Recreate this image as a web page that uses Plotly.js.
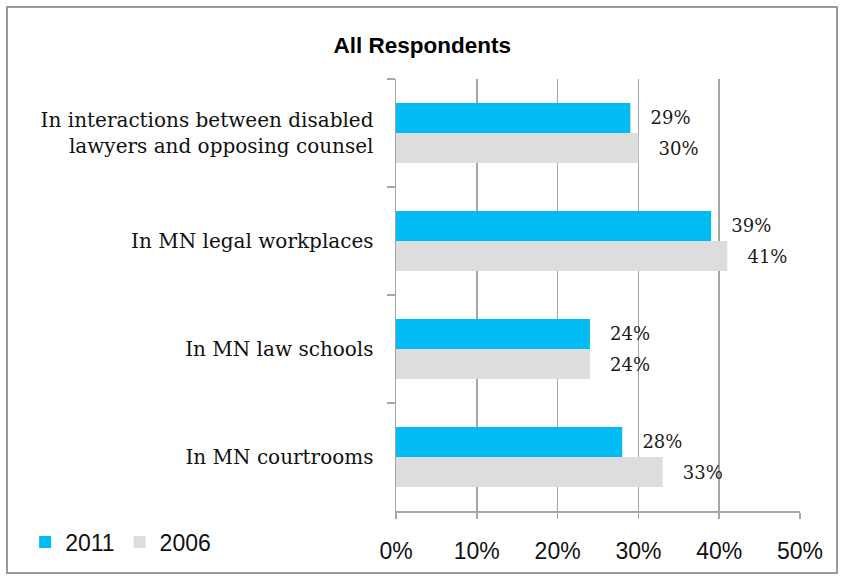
<!DOCTYPE html>
<html>
<head>
<meta charset="utf-8">
<script src="https://cdn.plot.ly/plotly-3.0.1.min.js"></script>
<style>
  html, body { margin: 0; padding: 0; background: #fff; }
  #wrap { position: relative; width: 841px; height: 577px; }
  #chart { width: 841px; height: 577px; }
  #frame { position: absolute; left: 6px; top: 6px; width: 828px; height: 564px;
           border: 2px solid #9a9a9a; pointer-events: none; }
</style>
</head>
<body>
<div id="wrap">
  <div id="chart"></div>
  <div id="frame"></div>
</div>
<script>
const categories = [
  "In interactions between disabled<br>lawyers and opposing counsel",
  "In MN legal workplaces",
  "In MN law schools",
  "In MN courtrooms"
];
const seriesNames = ["2011", "2006"];
const values2011 = [29, 39, 24, 28];
const values2006 = [30, 41, 24, 33];
const xTickValues = [0, 10, 20, 30, 40, 50];
const xTickLabels = ["0%", "10%", "20%", "30%", "40%", "50%"];

const sans = '"Liberation Sans", Arial, sans-serif';
const serif = '"DejaVu Serif", "Liberation Serif", serif';
const lab = '\u00a0\u00a0\u00a0%{text}%';

const traces = [
  {
    type: 'bar', orientation: 'h', name: seriesNames[0],
    y: categories, x: values2011, text: values2011,
    marker: { color: '#00BCF2' },
    texttemplate: lab, textposition: 'outside', cliponaxis: false,
    textfont: { family: serif, size: 18, color: '#1a1a1a' },
    hoverinfo: 'skip'
  },
  {
    type: 'bar', orientation: 'h', name: seriesNames[1],
    y: categories, x: values2006, text: values2006,
    marker: { color: '#DDDDDD' },
    texttemplate: lab, textposition: 'outside', cliponaxis: false,
    textfont: { family: serif, size: 18, color: '#1a1a1a' },
    hoverinfo: 'skip'
  }
];

const layout = {
  width: 841, height: 577,
  margin: { l: 396, r: 41, t: 79, b: 66 },
  paper_bgcolor: '#ffffff', plot_bgcolor: '#ffffff',
  barmode: 'group', bargap: 0.444, bargroupgap: 0,
  title: {
    text: '<b>All Respondents</b>',
    font: { family: sans, size: 22.5, color: '#000' },
    x: 0.502, xref: 'container', xanchor: 'center',
    y: 0.922, yref: 'container', yanchor: 'middle'
  },
  xaxis: {
    range: [0, 50], tickvals: xTickValues, ticktext: xTickLabels,
    showgrid: true, gridcolor: '#a6a6a6', gridwidth: 1.5,
    showline: true, linecolor: '#a6a6a6', linewidth: 1.5,
    ticks: 'outside', ticklen: 6, tickcolor: '#a6a6a6', tickwidth: 1.5,
    ticklabelstandoff: 13,
    tickfont: { family: sans, size: 23, color: '#111' },
    zeroline: false, fixedrange: true
  },
  yaxis: {
    type: 'category', autorange: 'reversed',
    showgrid: false, showline: true, linecolor: '#a6a6a6', linewidth: 1.5,
    ticks: 'outside', tickson: 'boundaries', ticklen: 8, tickcolor: '#a6a6a6', tickwidth: 1.5,
    ticklabelstandoff: 17,
    tickfont: { family: serif, size: 20, color: '#111' },
    fixedrange: true
  },
  showlegend: true,
  legend: {
    orientation: 'h', x: -0.918, xanchor: 'left', y: -0.072, yanchor: 'middle',
    font: { family: sans, size: 23, color: '#111' },
    traceorder: 'normal', bgcolor: 'rgba(0,0,0,0)'
  }
};

Plotly.newPlot('chart', traces, layout, { staticPlot: true, displayModeBar: false });
</script>
</body>
</html>
